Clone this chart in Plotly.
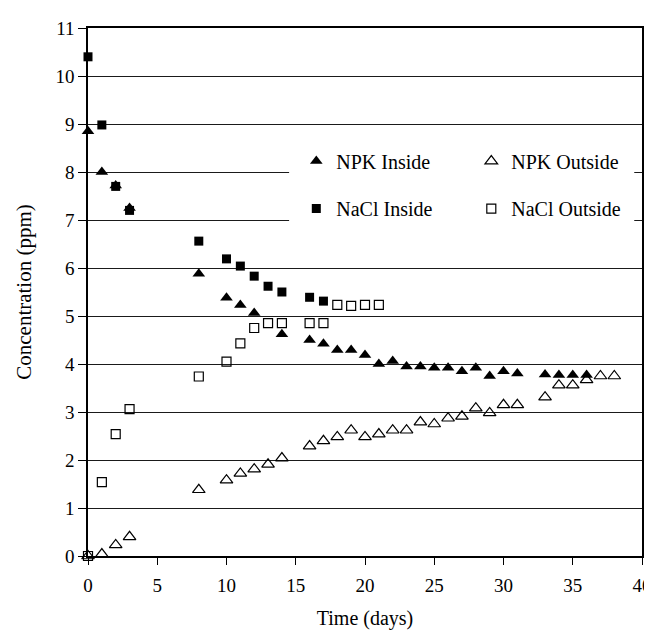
import plotly.graph_objects as go

# ---- data ----
npk_in_days = [0, 1, 2, 3, 8, 10, 11, 12, 14, 16, 17, 18, 19, 20, 21, 22, 23, 24, 25,
               26, 27, 28, 29, 30, 31, 33, 34, 35, 36]
npk_in_vals = [8.85, 8.0, 7.72, 7.25, 5.88, 5.38, 5.23, 5.06, 4.62, 4.5, 4.42, 4.29, 4.29, 4.19,
               4.0, 4.06, 3.95, 3.95, 3.92, 3.92, 3.85, 3.92, 3.75, 3.85, 3.8, 3.78, 3.77, 3.77, 3.77]

npk_out_days = [0, 1, 2, 3, 8, 10, 11, 12, 13, 14, 16, 17, 18, 19, 20, 21, 22, 23, 24, 25,
                26, 27, 28, 29, 30, 31, 33, 34, 35, 36, 37, 38]
npk_out_vals = [0.0, 0.04, 0.23, 0.4, 1.38, 1.58, 1.72, 1.81, 1.91, 2.04, 2.29, 2.4, 2.48, 2.62,
                2.48, 2.54, 2.62, 2.62, 2.79, 2.75, 2.87, 2.91, 3.08, 2.98, 3.15, 3.15, 3.31,
                3.56, 3.56, 3.67, 3.75, 3.75]

nacl_in_days = [0, 1, 2, 3, 8, 10, 11, 12, 13, 14, 16, 17]
nacl_in_vals = [10.4, 8.98, 7.7, 7.2, 6.56, 6.19, 6.04, 5.83, 5.62, 5.5, 5.39, 5.31]

nacl_out_days = [0, 1, 2, 3, 8, 10, 11, 12, 13, 14, 16, 17, 18, 19, 20, 21]
nacl_out_vals = [0.0, 1.54, 2.54, 3.06, 3.74, 4.05, 4.43, 4.75, 4.85, 4.85, 4.85, 4.85,
                 5.23, 5.21, 5.23, 5.23]

x_ticks = [0, 5, 10, 15, 20, 25, 30, 35, 40]
y_ticks = list(range(0, 12))

FONT = "Liberation Serif, Times New Roman, serif"

fig = go.Figure()
fig.add_trace(go.Scatter(x=npk_in_days, y=npk_in_vals, mode="markers", name="NPK Inside",
                         marker=dict(symbol="triangle-up", size=11, color="black"),
                         legend="legend", cliponaxis=False))
fig.add_trace(go.Scatter(x=npk_out_days, y=npk_out_vals, mode="markers", name="NPK Outside",
                         marker=dict(symbol="triangle-up-open", size=11, color="black",
                                     line=dict(width=1.2, color="black")),
                         legend="legend", cliponaxis=False))
fig.add_trace(go.Scatter(x=nacl_in_days, y=nacl_in_vals, mode="markers", name="NaCl Inside",
                         marker=dict(symbol="square", size=9, color="black"),
                         legend="legend2", cliponaxis=False))
fig.add_trace(go.Scatter(x=nacl_out_days, y=nacl_out_vals, mode="markers", name="NaCl Outside",
                         marker=dict(symbol="square-open", size=9, color="black",
                                     line=dict(width=1.2, color="black")),
                         legend="legend2", cliponaxis=False))

# white panel behind the legend (hides gridlines there, as in the reference)
fig.add_shape(type="rect", xref="paper", yref="paper", x0=0.363, x1=0.986, y0=0.62, y1=0.79,
              fillcolor="white", line=dict(width=0), layer="above")

legend_common = dict(orientation="h", bgcolor="rgba(0,0,0,0)", borderwidth=0,
                     font=dict(family=FONT, size=20, color="black"),
                     entrywidth=130, entrywidthmode="pixels", itemwidth=30,
                     xanchor="left", yanchor="middle", traceorder="normal")
fig.update_layout(
    width=652, height=630,
    margin=dict(l=80, r=8, t=20, b=82),
    paper_bgcolor="white", plot_bgcolor="white",
    font=dict(family=FONT, size=19, color="black"),
    showlegend=True,
    legend=dict(x=0.376, y=0.748, **legend_common),
    legend2=dict(x=0.376, y=0.658, **legend_common),
    xaxis=dict(range=[0, 40], tickvals=x_ticks, ticks="outside", ticklen=7, tickwidth=1,
               tickcolor="black", showgrid=False, zeroline=False, showline=True,
               linecolor="black", linewidth=1.5, mirror=True, ticklabelstandoff=4,
               title=dict(text="Time (days)", font=dict(size=20), standoff=16),
               tickfont=dict(size=19)),
    yaxis=dict(range=[0, 11], tickvals=y_ticks, ticks="outside", ticklen=8, tickwidth=1,
               tickcolor="black", showgrid=True, gridcolor="#1a1a1a", gridwidth=1.2,
               zeroline=False, showline=True, linecolor="black", linewidth=1.5, mirror=True,
               title=dict(text="Concentration (ppm)", font=dict(size=21), standoff=18),
               tickfont=dict(size=19)),
)

fig.write_html("out.html")
